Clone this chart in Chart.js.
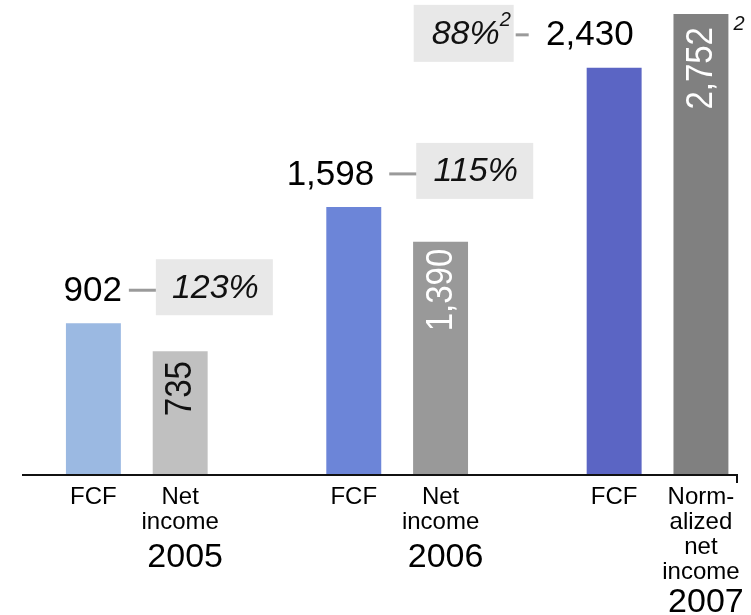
<!DOCTYPE html>
<html>
<head>
<meta charset="utf-8">
<script src="https://cdn.jsdelivr.net/npm/chart.js@4.4.1/dist/chart.umd.min.js"></script>
<style>
  html, body { margin: 0; padding: 0; background: #fff; }
  canvas { display: block; }
</style>
</head>
<body>
<canvas id="chart" width="751" height="615"></canvas>
<script>
// data
const categories = ["FCF", ["Net", "income"], "", "FCF", ["Net", "income"], "", "FCF", ["Norm-", "alized", "net", "income"]];
const values = [902, 735, null, 1598, 1390, null, 2430, 2752];
const years = ["2005", "2006", "2007"];
const ratios = ["123%", "115%", "88%"];
const ratioNotes = ["", "", "2"];
const lastBarNote = "2";

const barColors = ["#9bb9e2", "#c0c0c0", null, "#6c85d8", "#999999", null, "#5b65c4", "#808080"];
const FONT = "'Liberation Sans', Arial, sans-serif";

function fmt(v) {
    return v.toLocaleString("en-US");
}

// labels, ratio boxes, axis line and year captions
const annotations = {
    id: "annotations",
    afterDatasetsDraw(chart) {
        const ctx = chart.ctx;
        const bars = chart.getDatasetMeta(0).data;
        const y0 = chart.scales.y.getPixelForValue(0);
        ctx.save();

        // axis line with a little tick at the right end
        ctx.strokeStyle = "#111";
        ctx.lineWidth = 2;
        ctx.beginPath();
        ctx.moveTo(22, y0 + 1);
        ctx.lineTo(737, y0 + 1);
        ctx.lineTo(737, y0 + 9);
        ctx.stroke();

        for (let g = 0; g < years.length; g++) {
            const fcf = bars[g * 3];
            const net = bars[g * 3 + 1];
            const fv = values[g * 3];
            const nv = values[g * 3 + 1];
            const right = fcf.x + fcf.width / 2;
            const left = fcf.x - fcf.width / 2;
            const top = fcf.y;

            let box, dash, valueRight;
            if (g < 2) {
                valueRight = right + (g === 0 ? 1 : -7);
                dash = [right + 8, right + 35];
                box = [right + 35, top - 64, 117, 56];
            } else {
                valueRight = right - 8;
                dash = [left - 71, left - 58];
                box = [left - 173, top - 63, 100, 57];
            }

            // ratio box
            ctx.fillStyle = "#e8e8e8";
            ctx.fillRect(box[0], box[1], box[2], box[3]);
            ctx.font = "italic 34px " + FONT;
            ctx.fillStyle = "#111";
            ctx.textBaseline = "middle";
            const cy = box[1] + box[3] / 2 + 1;
            if (ratioNotes[g]) {
                ctx.textAlign = "left";
                const w = ctx.measureText(ratios[g]).width;
                const tx = box[0] + 18;
                ctx.fillText(ratios[g], tx, cy);
                ctx.font = "italic 20px " + FONT;
                ctx.fillText(ratioNotes[g], tx + w, cy - 14);
            } else {
                ctx.textAlign = "center";
                ctx.fillText(ratios[g], box[0] + box[2] / 2 + 1, cy);
            }

            // connector dash
            ctx.strokeStyle = "#9a9a9a";
            ctx.lineWidth = 3;
            ctx.beginPath();
            ctx.moveTo(dash[0], top - 33);
            ctx.lineTo(dash[1], top - 33);
            ctx.stroke();

            // FCF value
            ctx.font = "35px " + FONT;
            ctx.fillStyle = "#000";
            ctx.textAlign = "right";
            ctx.fillText(fmt(fv), valueRight, top - 32);

            // net income value, rotated inside the bar
            ctx.save();
            ctx.translate(net.x + 1, net.y + (g === 0 ? 10 : g === 1 ? 7 : 13));
            ctx.rotate(-Math.PI / 2);
            ctx.scale(1, 1.12);
            ctx.font = "33px " + FONT;
            ctx.fillStyle = g === 0 ? "#111" : "#fff";
            ctx.textAlign = "right";
            ctx.textBaseline = "middle";
            ctx.fillText(fmt(nv), 0, 0);
            ctx.restore();

            // year caption under the category labels
            const lines = Array.isArray(categories[g * 3 + 1]) ? categories[g * 3 + 1].length : 1;
            ctx.font = "34px " + FONT;
            ctx.fillStyle = "#000";
            ctx.textAlign = "center";
            ctx.textBaseline = "middle";
            ctx.fillText(years[g], net.x + 5, y0 + 39 + lines * 22.5);
        }

        // footnote mark next to the last bar
        const last = bars[bars.length - 1];
        ctx.font = "italic 20px " + FONT;
        ctx.fillStyle = "#111";
        ctx.textAlign = "left";
        ctx.textBaseline = "top";
        ctx.fillText(lastBarNote, last.x + last.width / 2 + 5, last.y);

        ctx.restore();
    }
};

new Chart(document.getElementById("chart"), {
    type: "bar",
    data: {
        labels: categories,
        datasets: [{
            data: values,
            backgroundColor: barColors,
            borderWidth: 0,
            barPercentage: 0.633,
            categoryPercentage: 1
        }]
    },
    options: {
        responsive: false,
        animation: false,
        layout: { padding: { left: 50, right: 6, top: 6, bottom: 0 } },
        plugins: {
            legend: { display: false },
            tooltip: { enabled: false }
        },
        scales: {
            x: {
                grid: { display: false, drawTicks: false },
                border: { display: false },
                ticks: {
                    autoSkip: false,
                    maxRotation: 0,
                    padding: 11,
                    color: "#000",
                    font: { family: FONT, size: 24, lineHeight: 1.04 }
                },
                afterFit(scale) { scale.height = 141; }
            },
            y: {
                display: false,
                min: 0,
                max: 2800
            }
        }
    },
    plugins: [annotations]
});
</script>
</body>
</html>
